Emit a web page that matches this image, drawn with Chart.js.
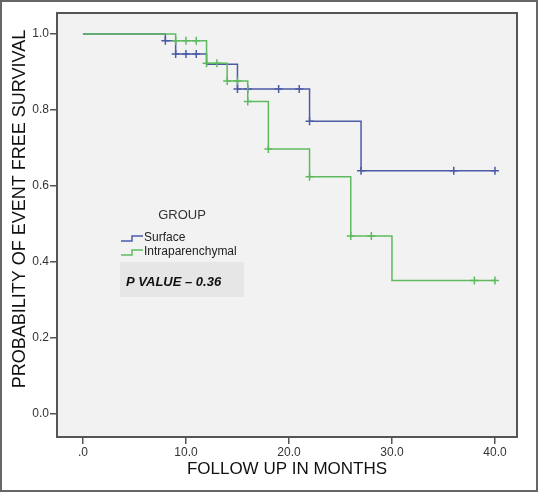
<!DOCTYPE html>
<html>
<head>
<meta charset="utf-8">
<script src="https://cdn.jsdelivr.net/npm/chart.js@4.4.0/dist/chart.umd.min.js"></script>
<style>
html,body{margin:0;padding:0;background:#fff;}
</style>
</head>
<body>
<canvas id="myChart" width="538" height="492"></canvas>
<script>
const xTicks = [0, 10, 20, 30, 40];
const yTicks = [0, 0.2, 0.4, 0.6, 0.8, 1.0];

// surface group: step times and survival after each step
const surfaceTimes = [0, 8, 9, 12, 15, 22, 27, 40];
const surfaceSurv = [1.0, 0.982, 0.947, 0.92, 0.855, 0.77, 0.64, 0.64];
const surfaceCensTimes = [8, 9, 10, 11, 15, 16, 19, 21, 22, 27, 36, 40];
const surfaceCensSurv = [0.982, 0.947, 0.947, 0.947, 0.855, 0.855, 0.855, 0.855, 0.77, 0.64, 0.64, 0.64];

// intraparenchymal group
const intraTimes = [0, 9, 12, 14, 16, 18, 22, 26, 30, 40];
const intraSurv = [1.0, 0.982, 0.923, 0.876, 0.822, 0.697, 0.624, 0.468, 0.351, 0.351];
const intraCensTimes = [9, 10, 11, 12, 13, 14, 15, 16, 18, 22, 26, 28, 38, 40];
const intraCensSurv = [0.982, 0.982, 0.982, 0.923, 0.923, 0.876, 0.876, 0.822, 0.697, 0.624, 0.468, 0.468, 0.351, 0.351];

const blue = "#4b5ba6";
const green = "#5fba5f";

function pts(xs, ys){
  return xs.map((x, i) => ({x: x, y: ys[i]}));
}

const decor = {
  id: "decor",
  beforeDraw(chart){
    const c = chart.ctx, a = chart.chartArea;
    c.save();
    c.fillStyle = "#fff";
    c.fillRect(0, 0, chart.width, chart.height);
    c.fillStyle = "#f2f2f2";
    c.fillRect(a.left, a.top, a.right - a.left, a.bottom - a.top);
    c.restore();
  },
  afterDraw(chart){
    const c = chart.ctx, a = chart.chartArea;
    c.save();
    // plot frame
    c.strokeStyle = "#555";
    c.lineWidth = 2;
    c.strokeRect(a.left, a.top, a.right - a.left, a.bottom - a.top);
    // y title
    c.translate(20, 209);
    c.rotate(-Math.PI / 2);
    c.fillStyle = "#111";
    c.font = "18px 'Liberation Sans'";
    c.textAlign = "center";
    c.textBaseline = "middle";
    c.fillText("PROBABILITY OF EVENT FREE SURVIVAL", 0, 0);
    c.restore();

    // legend
    c.save();
    c.fillStyle = "#333";
    c.font = "13px 'Liberation Sans'";
    c.textAlign = "center";
    c.textBaseline = "middle";
    c.fillText("GROUP", 182, 215);
    c.lineWidth = 1.5;
    c.strokeStyle = blue;
    c.beginPath();
    c.moveTo(121, 241); c.lineTo(132, 241); c.lineTo(132, 236); c.lineTo(143, 236);
    c.stroke();
    c.strokeStyle = green;
    c.beginPath();
    c.moveTo(121, 255); c.lineTo(132, 255); c.lineTo(132, 250); c.lineTo(143, 250);
    c.stroke();
    c.fillStyle = "#222";
    c.font = "12px 'Liberation Sans'";
    c.textAlign = "left";
    c.fillText("Surface", 144, 238);
    c.fillText("Intraparenchymal", 144, 252);
    c.fillStyle = "#e6e6e6";
    c.fillRect(120, 262, 124, 35);
    c.fillStyle = "#111";
    c.font = "italic bold 13px 'Liberation Sans'";
    c.fillText("P VALUE \u2013 0.36", 126, 282);
    // outer border
    c.strokeStyle = "#666";
    c.lineWidth = 2;
    c.strokeRect(1, 1, chart.width - 2, chart.height - 2);
    c.restore();
  }
};

const ctx = document.getElementById("myChart").getContext("2d");
new Chart(ctx, {
  type: "line",
  data: {
    datasets: [
      {
        label: "Intraparenchymal",
        data: pts(intraTimes, intraSurv),
        stepped: "before",
        borderColor: green,
        borderWidth: 1.5,
        pointRadius: 0,
        fill: false,
        order: 0
      },
      {
        label: "Intraparenchymal censored",
        data: pts(intraCensTimes, intraCensSurv),
        showLine: false,
        pointStyle: "cross",
        pointRadius: 4,
        pointBorderColor: green,
        pointBorderWidth: 1.5,
        order: 0
      },
      {
        label: "Surface",
        data: pts(surfaceTimes, surfaceSurv),
        stepped: "before",
        borderColor: blue,
        borderWidth: 1.5,
        pointRadius: 0,
        fill: false,
        order: 1
      },
      {
        label: "Surface censored",
        data: pts(surfaceCensTimes, surfaceCensSurv),
        showLine: false,
        pointStyle: "cross",
        pointRadius: 4,
        pointBorderColor: blue,
        pointBorderWidth: 1.5,
        order: 1
      }
    ]
  },
  options: {
    responsive: false,
    animation: false,
    layout: {padding: {left: 0, top: 13, right: 21, bottom: 0}},
    plugins: {legend: {display: false}, tooltip: {enabled: false}},
    scales: {
      x: {
        type: "linear",
        min: -2.52,
        max: 42.14,
        afterBuildTicks: s => { s.ticks = xTicks.map(v => ({value: v})); },
        afterFit: s => { s.height = 55; },
        ticks: {
          callback: v => v === 0 ? ".0" : v.toFixed(1),
          color: "#333",
          font: {family: "Liberation Sans", size: 12},
          padding: 1,
          maxRotation: 0,
          autoSkip: false
        },
        grid: {drawOnChartArea: false, tickLength: 7, color: "#555", lineWidth: 1.5},
        border: {display: false},
        title: {
          display: true,
          text: "FOLLOW UP IN MONTHS",
          color: "#111",
          font: {family: "Liberation Sans", size: 17},
          padding: {top: 0, bottom: 12}
        }
      },
      y: {
        min: -0.0605,
        max: 1.055,
        afterBuildTicks: s => { s.ticks = yTicks.map(v => ({value: v})); },
        afterFit: s => { s.width = 57; },
        ticks: {
          callback: v => v.toFixed(1),
          color: "#333",
          font: {family: "Liberation Sans", size: 12},
          padding: 1
        },
        grid: {drawOnChartArea: false, tickLength: 7, color: "#555", lineWidth: 1.5},
        border: {display: false}
      }
    }
  },
  plugins: [decor]
});
</script>
</body>
</html>
